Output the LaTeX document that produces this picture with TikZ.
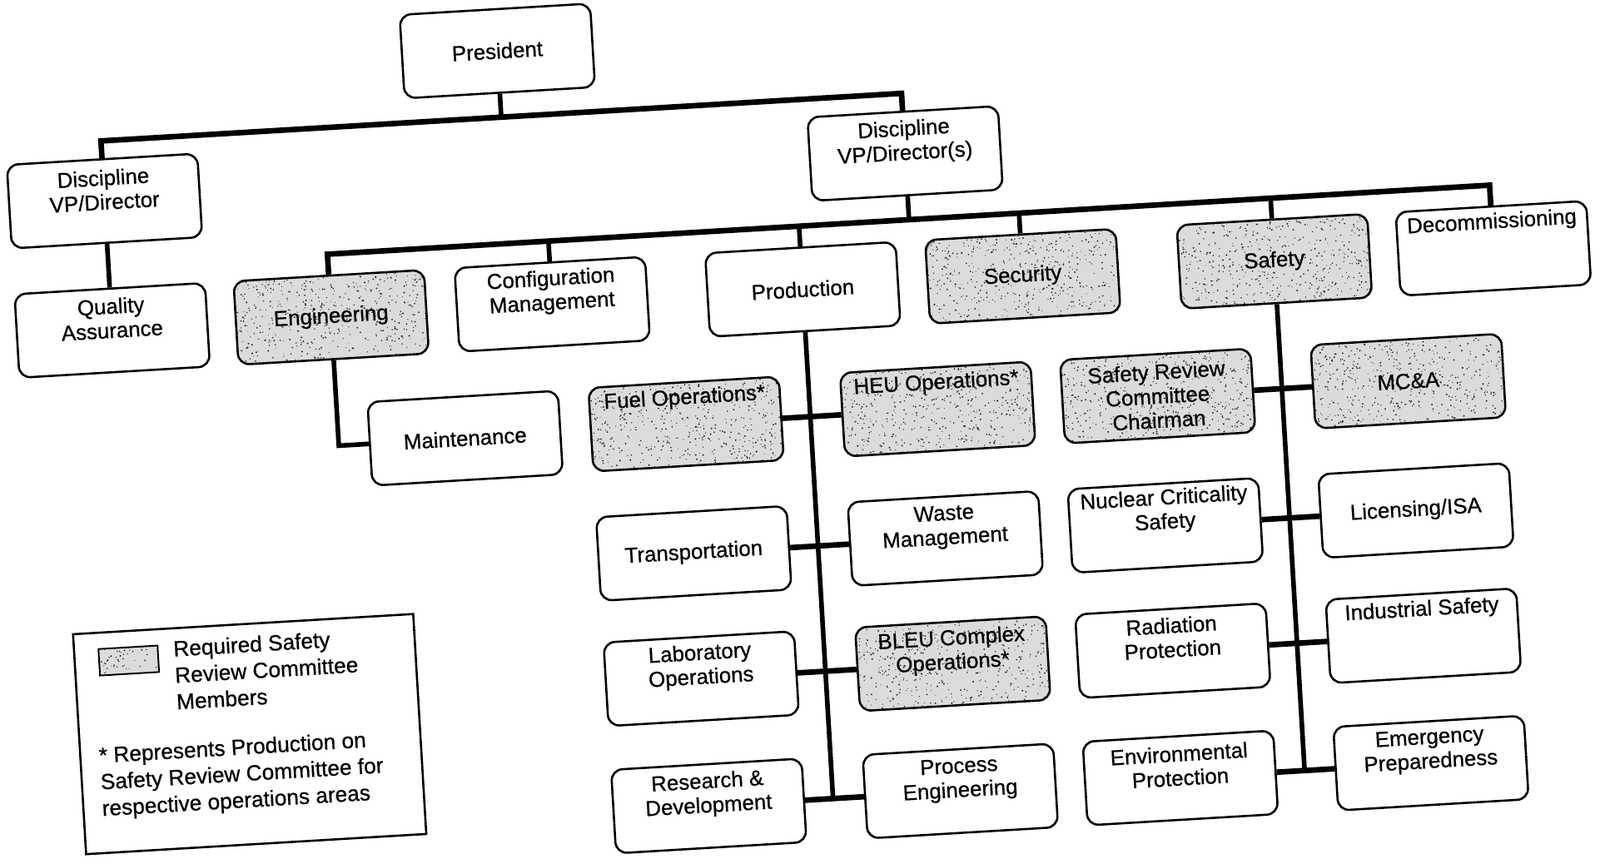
\documentclass[tikz,border=0pt]{standalone}
\usepackage{fontspec}
\setmainfont{Liberation Sans}[FakeBold=0.7]
\begin{document}
\begin{tikzpicture}[x=0.02cm, y=-0.02cm,
  box/.style={draw, line width=1.2pt, rounded corners=0.22cm, minimum width=3.74cm, minimum height=1.64cm, inner sep=0pt, fill=white},
  stipple/.style={fill=black!14, path picture={\foreach \k in {1,...,520}{\fill[black!85] ([shift={(rand*1.9cm,rand*0.85cm)}]path picture bounding box.center) circle ({0.22pt+0.3pt*rnd});}}},
  shaded/.style={box, stipple},
  txt/.style={align=center, font=\fontsize{12}{13.5}\selectfont, inner sep=0pt},
  legtxt/.style={align=left, anchor=west, font=\fontsize{12.2}{14.8}\selectfont, inner sep=0pt},
  bar/.style={line width=3.1pt, line join=miter},
  trunk/.style={line width=2.6pt, line join=miter},
]
\useasboundingbox (0,0) rectangle (1568,846);
\begin{scope}[rotate around={3.4:(784,423)}, transform shape]
% boxes
\node[box] (pres) at (510,33) {};
\node[box] (discL) at (117,157) {};
\node[box] (discR) at (903,157) {};
\node[box] (qa) at (117,284) {};
\node[shaded] (eng) at (332,284) {};
\node[box] (conf) at (549,284) {};
\node[box] (prod) at (795,284) {};
\node[shaded] (sec) at (1011,284) {};
\node[shaded] (saf) at (1258,284) {};
\node[box] (dec) at (1473,284) {};
\node[box] (maint) at (456,410) {};
\node[shaded] (fuel) at (673,409) {};
\node[shaded] (heu) at (920,409) {};
\node[shaded] (src) at (1136,409) {};
\node[shaded] (mca) at (1382,409) {};
\node[box] (trans) at (673,536) {};
\node[box] (waste) at (920,536) {};
\node[box] (ncs) at (1136,536) {};
\node[box] (lic) at (1382,536) {};
\node[box] (lab) at (673,659) {};
\node[shaded] (bleu) at (920,659) {};
\node[box] (rad) at (1136,659) {};
\node[box] (ind) at (1382,659) {};
\node[box] (rd) at (673,784) {};
\node[box] (proc) at (920,784) {};
\node[box] (env) at (1136,784) {};
\node[box] (emer) at (1382,784) {};
% texts
\node[txt] (pres-t) at (510,33) {President};
\node[txt] (discL-t) at (117,146) {Discipline\\VP/Director};
\node[txt] (discR-t) at (903,146) {Discipline\\VP/Director(s)};
\node[txt] (qa-t) at (117,272) {Quality\\Assurance};
\node[txt] (eng-t) at (332,284) {Engineering};
\node[txt] (conf-t) at (549,272) {Configuration\\Management};
\node[txt] (prod-t) at (795,284) {Production};
\node[txt] (sec-t) at (1011,284) {Security};
\node[txt] (saf-t) at (1258,284) {Safety};
\node[txt] (dec-t) at (1473,259) {Decommissioning};
\node[txt] (maint-t) at (456,410) {Maintenance};
\node[txt] (fuel-t) at (673,384) {Fuel Operations*};
\node[txt] (heu-t) at (920,384) {HEU Operations*};
\node[txt] (src-t) at (1136,409) {Safety Review\\Committee\\Chairman};
\node[txt] (mca-t) at (1382,409) {MC\&A};
\node[txt] (trans-t) at (673,536) {Transportation};
\node[txt] (waste-t) at (920,525) {Waste\\Management};
\node[txt] (ncs-t) at (1136,522) {Nuclear Criticality\\Safety};
\node[txt] (lic-t) at (1382,536) {Licensing/ISA};
\node[txt] (lab-t) at (673,647) {Laboratory\\Operations};
\node[txt] (bleu-t) at (920,647) {BLEU Complex\\Operations*};
\node[txt] (rad-t) at (1136,646) {Radiation\\Protection};
\node[txt] (ind-t) at (1382,634) {Industrial Safety};
\node[txt] (rd-t) at (673,773) {Research \&\\Development};
\node[txt] (proc-t) at (920,773) {Process\\Engineering};
\node[txt] (env-t) at (1136,772) {Environmental\\Protection};
\node[txt] (emer-t) at (1382,772) {Emergency\\Preparedness};
% junction coordinates
\coordinate (b1L) at (117,98);
\coordinate (b1M) at (510,98);
\coordinate (b1R) at (903,98);
\coordinate (b2L) at (332,222);
\coordinate (b2D) at (903,222);
\coordinate (b2C) at (549,222);
\coordinate (b2P) at (795,222);
\coordinate (b2S) at (1011,222);
\coordinate (b2F) at (1258,222);
\coordinate (b2R) at (1473,222);
\coordinate (mtc) at (332,410);
\coordinate (pEnd) at (795,784);
\coordinate (sEnd) at (1258,784);
% connectors
\draw[bar] (discL.north) -- (b1L) -- (b1R) -- (discR.north);
\draw[trunk] (pres.south) -- (b1M);
\draw[trunk] (discL.south) -- (qa.north);
\draw[trunk] (discR.south) -- (b2D);
\draw[bar] (eng.north) -- (b2L) -- (b2R) -- (dec.north);
\draw[trunk] (b2C) -- (conf.north);
\draw[trunk] (b2P) -- (prod.north);
\draw[trunk] (b2S) -- (sec.north);
\draw[trunk] (b2F) -- (saf.north);
\draw[trunk] (eng.south) -- (mtc) -- (maint.west);
\draw[trunk] (prod.south) -- (pEnd);
\draw[trunk] (saf.south) -- (sEnd);
\draw[bar] (fuel.east) -- (heu.west);
\draw[bar] (trans.east) -- (waste.west);
\draw[bar] (lab.east) -- (bleu.west);
\draw[bar] (rd.east) -- (proc.west);
\draw[bar] (src.east) -- (mca.west);
\draw[bar] (ncs.east) -- (lic.west);
\draw[bar] (rad.east) -- (ind.west);
\draw[bar] (env.east) -- (emer.west);
% legend
\node[draw, line width=1.2pt, minimum width=6.68cm, minimum height=4.32cm, inner sep=0pt] (legend) at (228,687) {};
\node[draw, line width=0.9pt, minimum width=1.16cm, minimum height=0.52cm, inner sep=0pt, stipple] (swatch) at (114,608) {};
\node[legtxt] (leg1) at (158,625) {Required Safety\\Review Committee\\Members};
\node[legtxt] (leg2) at (79,727) {* Represents Production on\\Safety Review Committee for\\respective operations areas};
\end{scope}
\end{tikzpicture}
\end{document}
